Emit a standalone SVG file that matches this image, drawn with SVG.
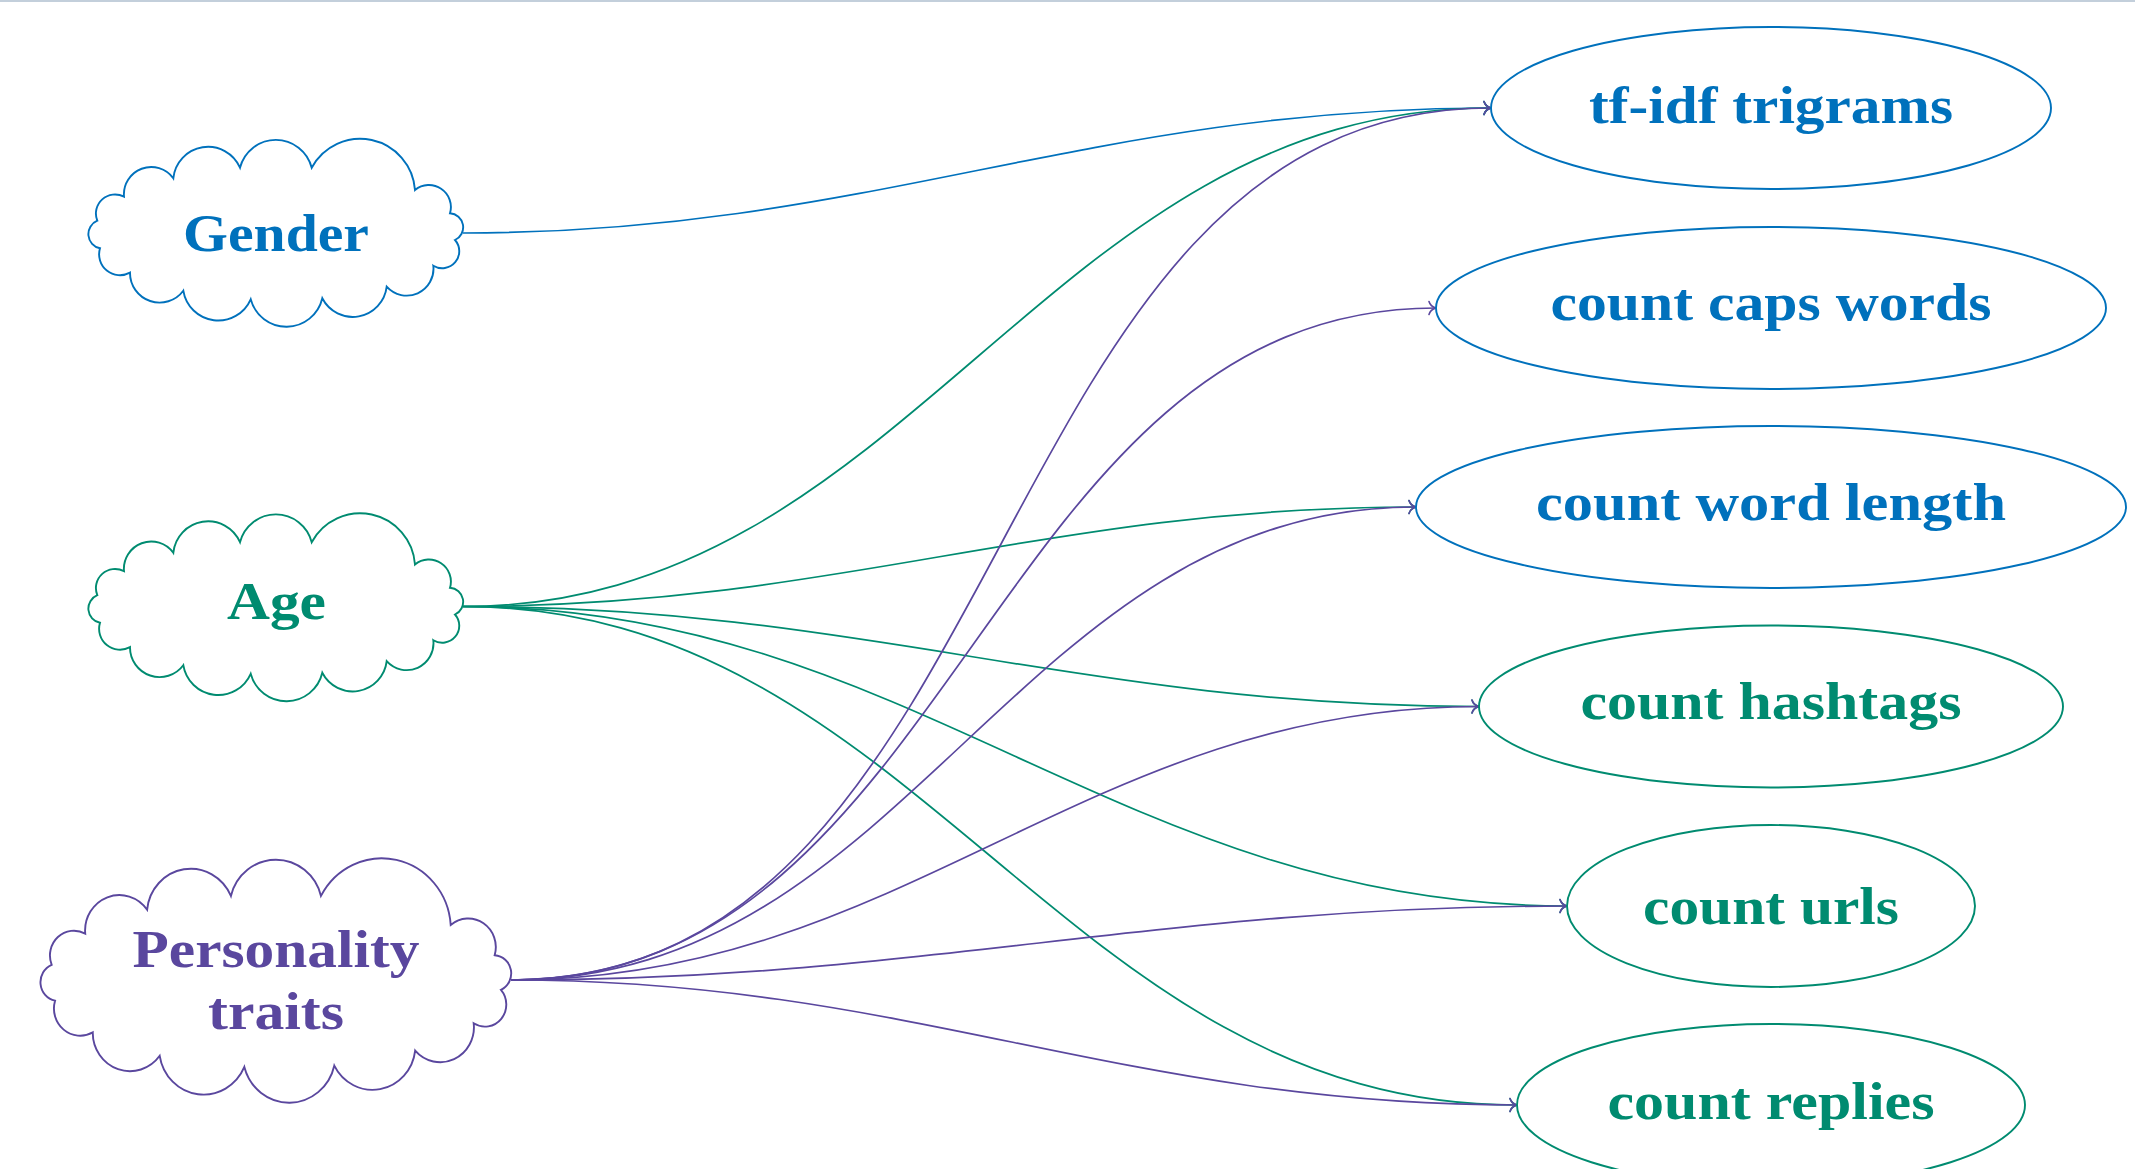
<svg xmlns="http://www.w3.org/2000/svg" xmlns:xlink="http://www.w3.org/1999/xlink" width="2135" height="1169" viewBox="0 0 2135 1169">
<style>
  .lbl { font-family: "Liberation Serif", "Times New Roman", serif; font-weight: bold; font-size: 53px; text-anchor: middle; }
  .blue { fill: #0071BC; }
  .green { fill: #008B70; }
  .purple { fill: #5A479E; }
  .shape { fill: #ffffff; stroke-width: 1.9; }
  .sblue { stroke: #0071BC; }
  .sgreen { stroke: #008B70; }
  .spurple { stroke: #5A479E; }
  .edge { fill: none; stroke-width: 1.7; }
</style>
<defs>
  <path id="cloud" vector-effect="non-scaling-stroke" d="M 124,196.7 A 27.3 27.3 0 0 1 173.3,178.3 A 34.9 34.9 0 0 1 240,167.7 A 37 37 0 0 1 311.7,167.7 A 55 55 0 0 1 415,190 A 22 22 0 0 1 450,213.3 A 14 14 0 0 1 455,240 A 17 17 0 0 1 433.3,265.7 A 26.8 26.8 0 0 1 386.7,286.7 A 34.2 34.2 0 0 1 322.3,298.3 A 36.9 36.9 0 0 1 250.7,299.3 A 35.4 35.4 0 0 1 183.3,290.7 A 29.6 29.6 0 0 1 130,272.7 A 20.9 20.9 0 0 1 100,248.3 A 14.5 14.5 0 0 1 97.3,220.7 A 19.1 19.1 0 0 1 124,196.7 Z"/>
  <marker id="ab" viewBox="-9 -8 11 16" refX="0" refY="0" markerWidth="11" markerHeight="16" markerUnits="userSpaceOnUse" orient="auto">
    <path d="M -7,-6.5 C -6,-3 -2.5,-0.7 0,0 C -2.5,0.7 -6,3 -7,6.5" fill="none" stroke="#0071BC" stroke-width="1.6" stroke-linecap="round"/>
  </marker>
  <marker id="ag" viewBox="-9 -8 11 16" refX="0" refY="0" markerWidth="11" markerHeight="16" markerUnits="userSpaceOnUse" orient="auto">
    <path d="M -7,-6.5 C -6,-3 -2.5,-0.7 0,0 C -2.5,0.7 -6,3 -7,6.5" fill="none" stroke="#008B70" stroke-width="1.6" stroke-linecap="round"/>
  </marker>
  <marker id="ap" viewBox="-9 -8 11 16" refX="0" refY="0" markerWidth="11" markerHeight="16" markerUnits="userSpaceOnUse" orient="auto">
    <path d="M -7,-6.5 C -6,-3 -2.5,-0.7 0,0 C -2.5,0.7 -6,3 -7,6.5" fill="none" stroke="#5A479E" stroke-width="1.6" stroke-linecap="round"/>
  </marker>
</defs>
<rect x="0" y="0" width="2135" height="2" fill="#c3cfdb"/>

<g id="connectors">
  <path class="edge sblue" marker-end="url(#ab)" d="M 463,233 C 868.4,233 1085.6,108 1491,108"/>
  <path class="edge sgreen" marker-end="url(#ag)" d="M 463,606.5 C 910.3,606.5 1043.7,108 1491,108"/>
  <path class="edge sgreen" marker-end="url(#ag)" d="M 463,606.5 C 838.1,606.5 1040.9,507 1416,507"/>
  <path class="edge sgreen" marker-end="url(#ag)" d="M 463,606.5 C 862.7,606.5 1079.3,706.5 1479,706.5"/>
  <path class="edge sgreen" marker-end="url(#ag)" d="M 463,606.5 C 910.8,606.5 1119.2,906 1567,906"/>
  <path class="edge sgreen" marker-end="url(#ag)" d="M 463,606.5 C 919.5,606.5 1060.5,1105 1517,1105"/>
  <path class="edge spurple" marker-end="url(#ap)" d="M 511,980 C 1024.6,980 977.4,108 1491,108"/>
  <path class="edge spurple" marker-end="url(#ap)" d="M 511,980 C 958.6,980 988.4,308 1436,308"/>
  <path class="edge spurple" marker-end="url(#ap)" d="M 511,980 C 910.8,980 1016.2,507 1416,507"/>
  <path class="edge spurple" marker-end="url(#ap)" d="M 511,980 C 904.8,980 1085.2,706.5 1479,706.5"/>
  <path class="edge spurple" marker-end="url(#ap)" d="M 511,980 C 925.4,980 1152.6,906 1567,906"/>
  <path class="edge spurple" marker-end="url(#ap)" d="M 511,980 C 907.9,980 1120.1,1105 1517,1105"/>
</g>

<g id="gender">
  <use xlink:href="#cloud" class="shape sblue"/>
  <text class="lbl blue" x="276" y="251" textLength="186" lengthAdjust="spacingAndGlyphs">Gender</text>
</g>
<g id="age">
  <use xlink:href="#cloud" class="shape sgreen" transform="translate(0,374.5)"/>
  <text class="lbl green" x="276.5" y="619" textLength="99" lengthAdjust="spacingAndGlyphs">Age</text>
</g>
<g id="personality">
  <use xlink:href="#cloud" class="shape spurple" transform="translate(275.5,979.5) scale(1.256,1.3) translate(-275.5,-232)"/>
  <text class="lbl purple" x="276" y="967" textLength="287" lengthAdjust="spacingAndGlyphs">Personality</text>
  <text class="lbl purple" x="276" y="1029" textLength="136" lengthAdjust="spacingAndGlyphs">traits</text>
</g>

<g id="tfidf">
  <ellipse class="shape sblue" cx="1771" cy="108" rx="280" ry="81"/>
  <text class="lbl blue" x="1771" y="123" textLength="364" lengthAdjust="spacingAndGlyphs">tf-idf trigrams</text>
</g>
<g id="caps">
  <ellipse class="shape sblue" cx="1771" cy="308" rx="335" ry="81"/>
  <text class="lbl blue" x="1771" y="320" textLength="441" lengthAdjust="spacingAndGlyphs">count caps words</text>
</g>
<g id="wordlen">
  <ellipse class="shape sblue" cx="1771" cy="507" rx="355" ry="81"/>
  <text class="lbl blue" x="1771" y="520" textLength="470" lengthAdjust="spacingAndGlyphs">count word length</text>
</g>
<g id="hashtags">
  <ellipse class="shape sgreen" cx="1771" cy="706.5" rx="292" ry="81"/>
  <text class="lbl green" x="1771" y="719" textLength="381" lengthAdjust="spacingAndGlyphs">count hashtags</text>
</g>
<g id="urls">
  <ellipse class="shape sgreen" cx="1771" cy="906" rx="204" ry="81"/>
  <text class="lbl green" x="1771" y="924" textLength="256" lengthAdjust="spacingAndGlyphs">count urls</text>
</g>
<g id="replies">
  <ellipse class="shape sgreen" cx="1771" cy="1105" rx="254" ry="81"/>
  <text class="lbl green" x="1771" y="1119" textLength="327" lengthAdjust="spacingAndGlyphs">count replies</text>
</g>
</svg>
